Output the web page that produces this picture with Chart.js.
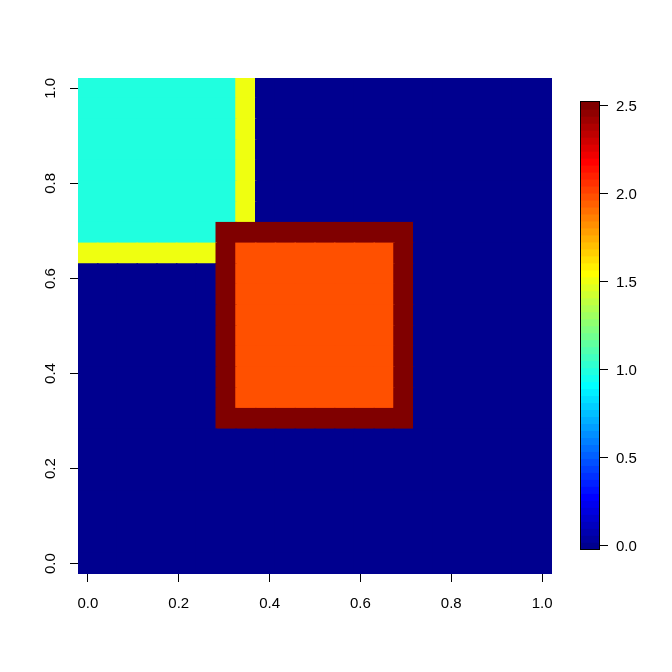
<!DOCTYPE html>
<html><head><meta charset="utf-8">
<script src="https://cdn.jsdelivr.net/npm/chart.js@4.4.0/dist/chart.umd.min.js"></script>
<style>
html,body{margin:0;padding:0;background:#fff;width:672px;height:672px;overflow:hidden}
#main{position:absolute;left:0;top:0}
#bar{position:absolute;left:560px;top:80px}
</style></head><body>
<canvas id="main" width="672" height="672"></canvas>
<canvas id="bar" width="112" height="500"></canvas>
<script>
// ---- data ----
const xTicks = [0.0, 0.2, 0.4, 0.6, 0.8, 1.0];
const yTicks = [0.0, 0.2, 0.4, 0.6, 0.8, 1.0];
const legendTicks = [0.0, 0.5, 1.0, 1.5, 2.0, 2.5];
const zRange = [0, 2.5];
const nGrid = 24; // grid points on [0,1] in each direction
// rows listed from top (y = 1) to bottom (y = 0), columns from x = 0 to x = 1
const zRows = [
  [1,1,1,1,1,1,1,1,1.5,0,0,0,0,0,0,0,0,0,0,0,0,0,0,0],
  [1,1,1,1,1,1,1,1,1.5,0,0,0,0,0,0,0,0,0,0,0,0,0,0,0],
  [1,1,1,1,1,1,1,1,1.5,0,0,0,0,0,0,0,0,0,0,0,0,0,0,0],
  [1,1,1,1,1,1,1,1,1.5,0,0,0,0,0,0,0,0,0,0,0,0,0,0,0],
  [1,1,1,1,1,1,1,1,1.5,0,0,0,0,0,0,0,0,0,0,0,0,0,0,0],
  [1,1,1,1,1,1,1,1,1.5,0,0,0,0,0,0,0,0,0,0,0,0,0,0,0],
  [1,1,1,1,1,1,1,1,1.5,0,0,0,0,0,0,0,0,0,0,0,0,0,0,0],
  [1,1,1,1,1,1,1,2.5,2.5,2.5,2.5,2.5,2.5,2.5,2.5,2.5,2.5,0,0,0,0,0,0,0],
  [1.5,1.5,1.5,1.5,1.5,1.5,1.5,2.5,1.97,1.97,1.97,1.97,1.97,1.97,1.97,1.97,2.5,0,0,0,0,0,0,0],
  [0,0,0,0,0,0,0,2.5,1.97,1.97,1.97,1.97,1.97,1.97,1.97,1.97,2.5,0,0,0,0,0,0,0],
  [0,0,0,0,0,0,0,2.5,1.97,1.97,1.97,1.97,1.97,1.97,1.97,1.97,2.5,0,0,0,0,0,0,0],
  [0,0,0,0,0,0,0,2.5,1.97,1.97,1.97,1.97,1.97,1.97,1.97,1.97,2.5,0,0,0,0,0,0,0],
  [0,0,0,0,0,0,0,2.5,1.97,1.97,1.97,1.97,1.97,1.97,1.97,1.97,2.5,0,0,0,0,0,0,0],
  [0,0,0,0,0,0,0,2.5,1.97,1.97,1.97,1.97,1.97,1.97,1.97,1.97,2.5,0,0,0,0,0,0,0],
  [0,0,0,0,0,0,0,2.5,1.97,1.97,1.97,1.97,1.97,1.97,1.97,1.97,2.5,0,0,0,0,0,0,0],
  [0,0,0,0,0,0,0,2.5,1.97,1.97,1.97,1.97,1.97,1.97,1.97,1.97,2.5,0,0,0,0,0,0,0],
  [0,0,0,0,0,0,0,2.5,2.5,2.5,2.5,2.5,2.5,2.5,2.5,2.5,2.5,0,0,0,0,0,0,0],
  [0,0,0,0,0,0,0,0,0,0,0,0,0,0,0,0,0,0,0,0,0,0,0,0],
  [0,0,0,0,0,0,0,0,0,0,0,0,0,0,0,0,0,0,0,0,0,0,0,0],
  [0,0,0,0,0,0,0,0,0,0,0,0,0,0,0,0,0,0,0,0,0,0,0,0],
  [0,0,0,0,0,0,0,0,0,0,0,0,0,0,0,0,0,0,0,0,0,0,0,0],
  [0,0,0,0,0,0,0,0,0,0,0,0,0,0,0,0,0,0,0,0,0,0,0,0],
  [0,0,0,0,0,0,0,0,0,0,0,0,0,0,0,0,0,0,0,0,0,0,0,0],
  [0,0,0,0,0,0,0,0,0,0,0,0,0,0,0,0,0,0,0,0,0,0,0,0]
];
// 64-colour "tim.colors" palette
const palette = ["#00008F","#00009F","#0000AF","#0000BF","#0000CF","#0000DF","#0000EF","#0000FF",
"#0010FF","#0020FF","#0030FF","#0040FF","#0050FF","#0060FF","#0070FF","#0080FF",
"#008FFF","#009FFF","#00AFFF","#00BFFF","#00CFFF","#00DFFF","#00EFFF","#00FFFF",
"#10FFEF","#20FFDF","#30FFCF","#40FFBF","#50FFAF","#60FF9F","#70FF8F","#80FF80",
"#8FFF70","#9FFF60","#AFFF50","#BFFF40","#CFFF30","#DFFF20","#EFFF10","#FFFF00",
"#FFEF00","#FFDF00","#FFCF00","#FFBF00","#FFAF00","#FF9F00","#FF8F00","#FF8000",
"#FF7000","#FF6000","#FF5000","#FF4000","#FF3000","#FF2000","#FF1000","#FF0000",
"#EF0000","#DF0000","#CF0000","#BF0000","#AF0000","#9F0000","#8F0000","#800000"];

// ---- build ----
Chart.defaults.font.family = "'Liberation Sans', Arial, sans-serif";
Chart.defaults.font.size = 15;
Chart.defaults.color = '#000';

const step = 1 / (nGrid - 1);
const half = step / 2;
function colorFor(z) {
  const f = (z - zRange[0]) / (zRange[1] - zRange[0]);
  return palette[Math.max(0, Math.min(palette.length - 1, Math.floor(f * palette.length)))];
}
const cells = [], cellColors = [];
zRows.forEach((row, r) => {
  const yc = (nGrid - 1 - r) * step;
  row.forEach((z, c) => {
    cells.push({x: c * step, y: [yc - half, yc + half]});
    cellColors.push(colorFor(z));
  });
});
const fmt = v => Number(v).toFixed(1);

new Chart(document.getElementById('main'), {
  type: 'bar',
  data: { datasets: [{ data: cells, backgroundColor: cellColors, borderWidth: 0,
    inflateAmount: 0.75, categoryPercentage: 1, barPercentage: 1 }] },
  options: {
    responsive: false, animation: false, events: [],
    layout: { padding: { left: 0, top: 78, right: 120, bottom: 0 } },
    plugins: { legend: { display: false }, tooltip: { enabled: false } },
    scales: {
      x: {
        type: 'linear', min: -half, max: 1 + half, offset: false,
        afterFit: s => { s.height = 98; },
        afterBuildTicks: s => { s.ticks = xTicks.map(v => ({value: v})); },
        border: { display: false },
        grid: { offset: false, drawOnChartArea: false, drawTicks: true, tickLength: 8, color: '#000', lineWidth: 1 },
        ticks: { padding: 13, autoSkip: false, maxRotation: 0, callback: fmt }
      },
      y: {
        type: 'linear', min: -half, max: 1 + half,
        afterFit: s => { s.width = 78; },
        afterBuildTicks: s => { s.ticks = yTicks.map(v => ({value: v})); },
        border: { display: false },
        grid: { drawOnChartArea: false, drawTicks: true, tickLength: 8, color: '#000', lineWidth: 1 },
        ticks: { padding: 9, autoSkip: false, minRotation: 90, maxRotation: 90, crossAlign: 'center', callback: fmt }
      }
    }
  }
});

// colour bar legend
const nLev = palette.length;
const levStep = (zRange[1] - zRange[0]) / (nLev - 1);
const levBars = palette.map((col, k) => {
  const c = zRange[0] + k * levStep;
  return {x: 'bar', y: [c - levStep / 2, c + levStep / 2]};
});
const boxPlugin = {
  id: 'box',
  afterDatasetsDraw(chart) {
    const a = chart.chartArea, ctx = chart.ctx;
    ctx.save();
    ctx.strokeStyle = '#000'; ctx.lineWidth = 1;
    ctx.strokeRect(Math.round(a.left) - 0.5, Math.round(a.top) - 0.5,
      Math.round(a.right) - Math.round(a.left) + 1, Math.round(a.bottom) - Math.round(a.top) + 1);
    ctx.restore();
  }
};
new Chart(document.getElementById('bar'), {
  type: 'bar',
  data: { labels: ['bar'], datasets: [{ data: levBars, backgroundColor: palette, borderWidth: 0,
    inflateAmount: 0.75, categoryPercentage: 1, barPercentage: 1 }] },
  plugins: [boxPlugin],
  options: {
    responsive: false, animation: false, events: [],
    layout: { padding: { left: 21, top: 22, right: 0, bottom: 31 } },
    plugins: { legend: { display: false }, tooltip: { enabled: false } },
    scales: {
      x: { type: 'category', display: false },
      y: {
        type: 'linear', position: 'right',
        min: zRange[0] - levStep / 2, max: zRange[1] + levStep / 2,
        afterFit: s => { s.width = 73; },
        afterBuildTicks: s => { s.ticks = legendTicks.map(v => ({value: v})); },
        border: { display: false },
        grid: { drawOnChartArea: false, drawTicks: true, tickLength: 9, color: '#000', lineWidth: 1 },
        ticks: { padding: 8, autoSkip: false, labelOffset: 1.5, callback: fmt }
      }
    }
  }
});
</script>
</body></html>
